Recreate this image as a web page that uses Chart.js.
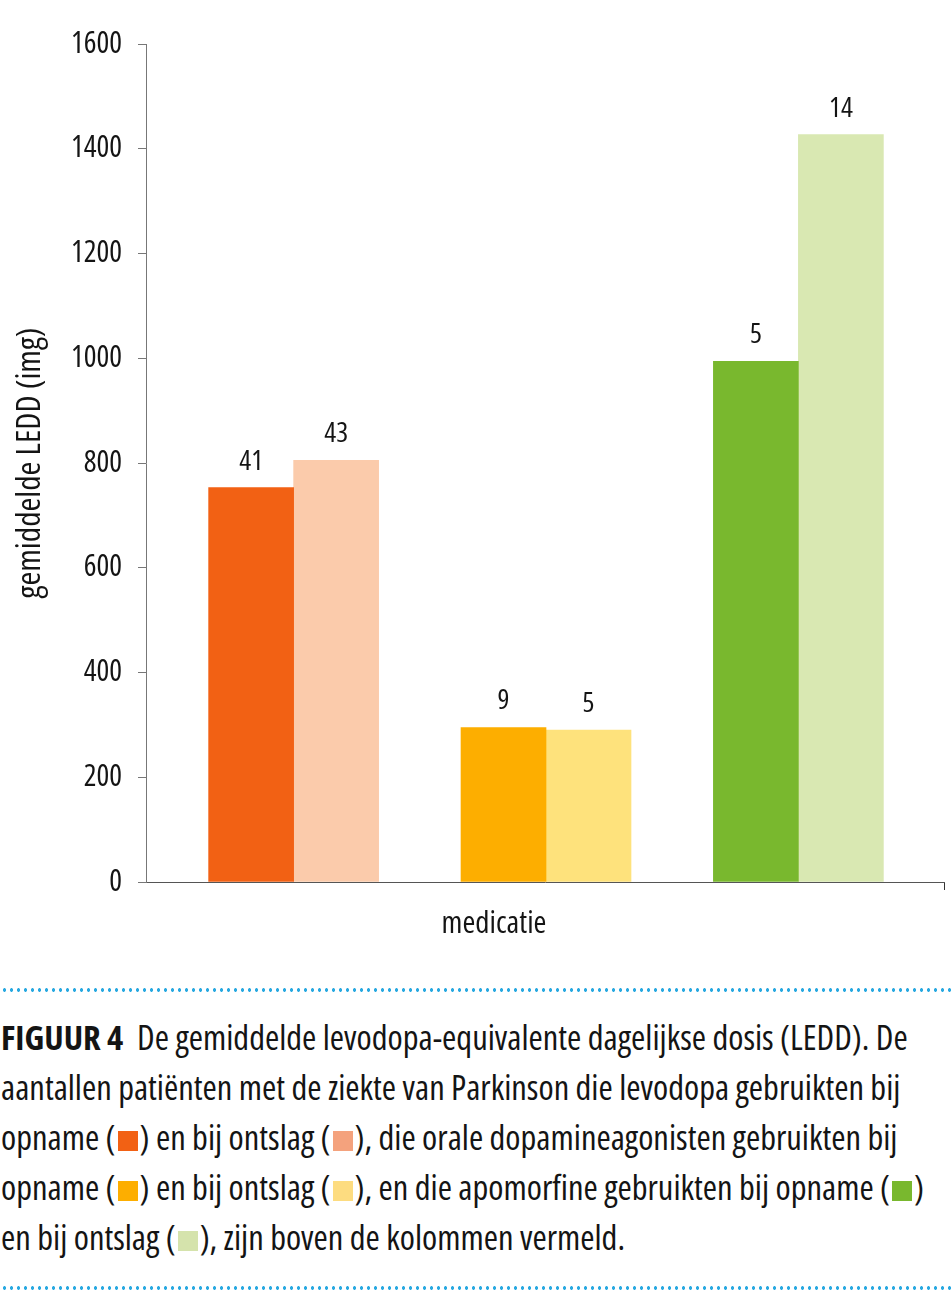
<!DOCTYPE html>
<html>
<head>
<meta charset="utf-8">
<script src="https://cdn.jsdelivr.net/npm/chart.js@4/dist/chart.umd.min.js"></script>
<style>
  html, body { margin: 0; padding: 0; background: #fff; }
  body { width: 951px; height: 1300px; position: relative; overflow: hidden;
         font-family: 'Open Sans', 'Roboto Condensed', sans-serif; font-stretch: 75%; }
  #wrap { position: absolute; left: 0; top: 0; width: 951px; height: 960px; }
  .dots { position: absolute; left: 0; width: 951px; height: 4px;
          background-image: radial-gradient(circle, #29a9e1 1.5px, rgba(41,169,225,0) 2px);
          background-size: 7px 4px; background-position: 1px 0; }
  #caption { position: absolute; left: 1px; top: 1012px; width: 950px; font-size: 34.5px; line-height: 50px;
             color: #141414; white-space: nowrap; }
  #caption b { font-weight: bold; margin-right: 14px; }
  .sq { display: inline-block; width: 20px; height: 20px; vertical-align: -1px; margin: 0 2px; }
</style>
</head>
<body>
<div id="wrap"><canvas id="c" width="951" height="960"></canvas></div>
<div class="dots" style="top:988px"></div>
<div id="caption"></div>
<div class="dots" style="top:1286px"></div>
<script>
// ---- data ----
const categories = ['levodopa', 'orale dopamineagonisten', 'apomorfine'];
const opnameLEDD = [753, 295, 994];
const ontslagLEDD = [805, 290, 1427];
const opnameN = [41, 9, 5];
const ontslagN = [43, 5, 14];
const yTicks = [0, 200, 400, 600, 800, 1000, 1200, 1400, 1600];
const opnameColors = ['#f26114', '#fdae00', '#79b82e'];
const ontslagColors = ['#fbcbab', '#fee27c', '#d9e8b2'];
const captionSquareColors = ['#f26114', '#f4a27d', '#fdae00', '#fddc80', '#79b82e', '#d5e3ac'];
const yTitle = 'gemiddelde LEDD (img)';
const xTitle = 'medicatie';

// ---- caption ----
const sq = i => '<span class="sq" style="background:' + captionSquareColors[i] + '"></span>';
document.getElementById('caption').innerHTML =
  '<b>FIGUUR 4</b>De gemiddelde levodopa-equivalente dagelijkse dosis (LEDD). De<br>' +
  'aantallen patiënten met de ziekte van Parkinson die levodopa gebruikten bij<br>' +
  'opname (' + sq(0) + ') en bij ontslag (' + sq(1) + '), die orale dopamineagonisten gebruikten bij<br>' +
  'opname (' + sq(2) + ') en bij ontslag (' + sq(3) + '), en die apomorfine gebruikten bij opname (' + sq(4) + ')<br>' +
  'en bij ontslag (' + sq(5) + '), zijn boven de kolommen vermeld.';

// ---- chart ----
const FONT = "'Open Sans', 'Roboto Condensed', sans-serif";
const COND = 'normal condensed';
Chart.defaults.font.family = FONT;
Chart.defaults.font.weight = COND;
Chart.defaults.color = '#141414';

const xMin = -0.585, xMax = 2.577;

const labelPlugin = {
  id: 'labels',
  afterDatasetsDraw(chart) {
    const ctx = chart.ctx;
    ctx.save();
    ctx.fillStyle = '#141414';
    ctx.font = COND + ' 28px ' + FONT;
    ctx.textAlign = 'center';
    ctx.textBaseline = 'alphabetic';
    const counts = [opnameN, ontslagN];
    chart.data.datasets.forEach((ds, di) => {
      chart.getDatasetMeta(di).data.forEach((el, i) => {
        ctx.fillText(String(counts[di][i]), el.x, el.y - 18);
      });
    });
    // x-axis title
    const ca = chart.chartArea;
    ctx.font = COND + ' 31px ' + FONT;
    ctx.fillText(xTitle, ca.left + 348, ca.bottom + 51);
    ctx.restore();
  }
};

new Chart(document.getElementById('c'), {
  type: 'bar',
  data: {
    datasets: [
      { label: 'opname', data: categories.map((c, i) => ({ x: i, y: opnameLEDD[i] })),
        backgroundColor: opnameColors, borderWidth: 0, barThickness: 85 },
      { label: 'ontslag', data: categories.map((c, i) => ({ x: i, y: ontslagLEDD[i] })),
        backgroundColor: ontslagColors, borderWidth: 0, barThickness: 85 }
    ]
  },
  options: {
    responsive: false,
    animation: false,
    layout: { padding: { top: 44, right: 7, left: 0, bottom: 0 } },
    plugins: { legend: { display: false }, tooltip: { enabled: false } },
    scales: {
      x: {
        type: 'linear', min: xMin, max: xMax, offset: false,
        afterBuildTicks: axis => { axis.ticks = [0, 1, 2, xMax].map(v => ({ value: v })); },
        afterFit: s => { s.height = 78; },
        ticks: { display: false },
        grid: { display: true, offset: false, drawOnChartArea: false, drawTicks: true, tickLength: 8,
                color: c => (c.tick && c.tick.value === xMax) ? '#333' : 'rgba(0,0,0,0)' },
        border: { display: true, color: '#555', width: 1 }
      },
      y: {
        min: 0, max: 1600,
        afterBuildTicks: axis => { axis.ticks = yTicks.map(v => ({ value: v })); },
        afterFit: s => { s.width = 146; },
        ticks: { font: { size: 30, weight: COND }, color: '#141414', padding: 16, callback: v => String(v) },
        grid: { drawOnChartArea: false, drawTicks: true, tickLength: 8, color: '#777' },
        border: { display: true, color: '#777', width: 1 },
        title: { display: true, text: yTitle, font: { size: 33.5, weight: COND }, color: '#141414',
                 padding: { top: 10, bottom: 0 } }
      }
    }
  },
  plugins: [labelPlugin]
});
</script>
</body>
</html>
